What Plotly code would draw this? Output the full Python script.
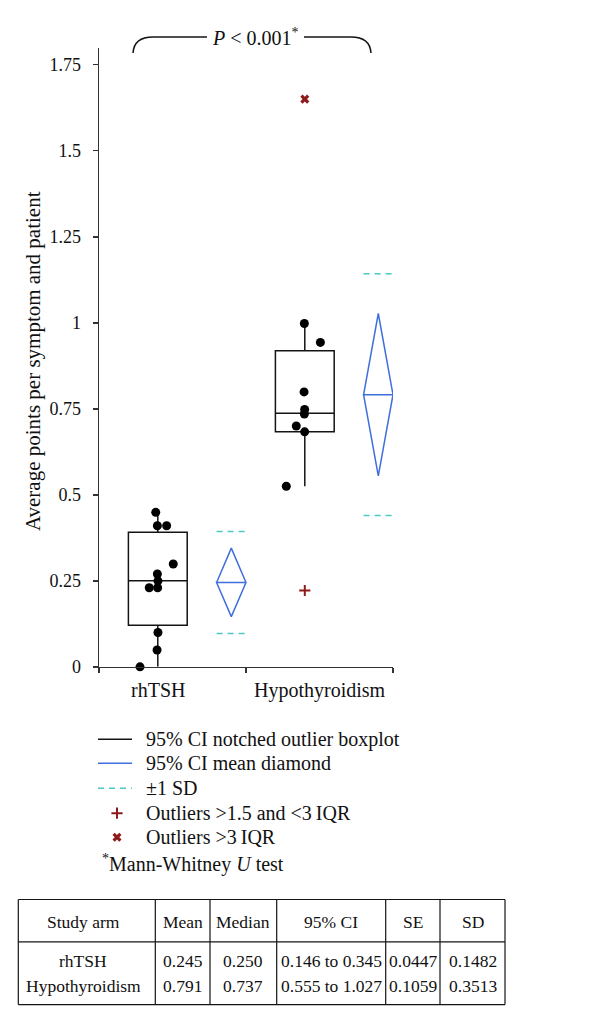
import plotly.graph_objects as go

W, H = 600, 1025
VS = 1 / 0.99   # vertical correction so page pixels land where intended
FONT = "'Liberation Serif', 'Times New Roman', Times, serif"
BLACK = "#141414"
AXIS = "#333333"
BLUE = "#3f6fdc"
CYAN = "#4cc8c8"
RED = "#8e1b1b"

# ---------------- data ----------------
groups = ["rhTSH", "Hypothyroidism"]
box_pos = [0.4, 1.4]
diamond_pos = [0.9, 1.9]
label_pos = [0.4, 1.5]

q1 = [0.121, 0.683]
median = [0.250, 0.737]
q3 = [0.391, 0.919]
lower_fence = [0.0, 0.525]
upper_fence = [0.45, 1.0]

means = [0.245, 0.791]
medians_tbl = [0.250, 0.737]
ci_low = [0.146, 0.555]
ci_high = [0.345, 1.027]
se = [0.0447, 0.1059]
sd = [0.1482, 0.3513]

rh_x = [0.386, 0.397, 0.460, 0.505, 0.397, 0.401, 0.342, 0.399, 0.401, 0.395, 0.279]
rh_y = [0.449, 0.410, 0.410, 0.299, 0.270, 0.250, 0.230, 0.230, 0.100, 0.049, 0.0]
hy_x = [1.397, 1.506, 1.395, 1.399, 1.397, 1.342, 1.399, 1.274]
hy_y = [0.998, 0.943, 0.799, 0.748, 0.735, 0.700, 0.683, 0.525]

mild_out_x = [1.40]
mild_out_y = [0.222]
ext_out_x = [1.40]
ext_out_y = [1.650]

y_ticks = [0, 0.25, 0.5, 0.75, 1, 1.25, 1.5, 1.75]
y_ticktext = ["0", "0.25", "0.5", "0.75", "1", "1.25", "1.5", "1.75"]

legend_labels = ["95% CI notched outlier boxplot", "95% CI mean diamond", "±1 SD",
                 "Outliers >1.5 and <3\u2009IQR", "Outliers >3\u2009IQR"]
table_header = ["Study arm", "Mean", "Median", "95% CI", "SE", "SD"]

# ---------------- figure ----------------
fig = go.Figure()

for i in range(len(groups)):
    fig.add_trace(go.Box(
        x=[box_pos[i]], q1=[q1[i]], median=[median[i]], q3=[q3[i]],
        lowerfence=[lower_fence[i]], upperfence=[upper_fence[i]],
        width=0.4, whiskerwidth=0, boxpoints=False,
        line=dict(color=BLACK, width=1.5), fillcolor="rgba(0,0,0,0)",
        showlegend=False, hoverinfo="skip", xaxis="x", yaxis="y"))

for i in range(len(groups)):
    c = diamond_pos[i]
    fig.add_trace(go.Scatter(
        x=[c - 0.1, c, c + 0.1, c, c - 0.1, c + 0.1],
        y=[means[i], ci_high[i], means[i], ci_low[i], means[i], means[i]],
        mode="lines", line=dict(color=BLUE, width=1.5), cliponaxis=False,
        showlegend=False, hoverinfo="skip", xaxis="x", yaxis="y"))
    fig.add_trace(go.Scatter(
        x=[c - 0.1, c + 0.1, None, c - 0.1, c + 0.1],
        y=[means[i] + sd[i], means[i] + sd[i], None, means[i] - sd[i], means[i] - sd[i]],
        mode="lines", line=dict(color=CYAN, width=1.5, dash="6px,5px"), cliponaxis=False,
        showlegend=False, hoverinfo="skip", xaxis="x", yaxis="y"))

fig.add_trace(go.Scatter(x=rh_x + hy_x, y=rh_y + hy_y, mode="markers",
                         marker=dict(color="black", size=9), cliponaxis=False,
                         showlegend=False, hoverinfo="skip", xaxis="x", yaxis="y"))
fig.add_trace(go.Scatter(x=mild_out_x, y=mild_out_y, mode="markers",
                         marker=dict(symbol="cross-thin", size=8, line=dict(color=RED, width=2)),
                         showlegend=False, hoverinfo="skip", xaxis="x", yaxis="y"))
fig.add_trace(go.Scatter(x=ext_out_x, y=ext_out_y, mode="markers",
                         marker=dict(symbol="x", size=8, color=RED),
                         showlegend=False, hoverinfo="skip", xaxis="x", yaxis="y"))

# legend markers (pixel overlay axes)
leg_y = [739, 763, 788, 813, 837]
fig.add_trace(go.Scatter(x=[117], y=[leg_y[3]], mode="markers",
                         marker=dict(symbol="cross-thin", size=8, line=dict(color=RED, width=2)),
                         showlegend=False, hoverinfo="skip", xaxis="x2", yaxis="y2"))
fig.add_trace(go.Scatter(x=[117], y=[leg_y[4]], mode="markers",
                         marker=dict(symbol="x", size=8, color=RED),
                         showlegend=False, hoverinfo="skip", xaxis="x2", yaxis="y2"))

shapes = []
annotations = []

def line(x0, y0, x1, y1, color=BLACK, width=1.5, dash=None):
    d = dict(type="line", xref="x2", yref="y2", x0=x0, y0=y0, x1=x1, y1=y1,
             line=dict(color=color, width=width))
    if dash:
        d["line"]["dash"] = dash
    shapes.append(d)

def text(x, y, s, size=19, xanchor="center", xref="x2", textangle=0):
    annotations.append(dict(x=x, y=y, xref=xref, yref="y2", text=s, showarrow=False,
                            xanchor=xanchor, yanchor="middle", textangle=textangle,
                            borderpad=0,
                            font=dict(family=FONT, size=size, color="#111")))

# bracket with p-value
shapes.append(dict(type="path", xref="x2", yref="y2",
                   path="M 133,53 Q 134,37 153,37 L 207,37 M 304,37 L 351,37 Q 370,37 371,53",
                   line=dict(color=BLACK, width=1.5)))
text(255, 37, "<i>P</i> &lt; 0.001<sup>*</sup>", size=20)

# axis title & category labels
text(33, 361, "Average points per symptom and patient", size=21, textangle=-90)
for i, g in enumerate(groups):
    text(label_pos[i], 690, g, size=20, xref="x")

# legend
line(98, leg_y[0], 132, leg_y[0], color=BLACK)
line(98, leg_y[1], 132, leg_y[1], color=BLUE)
line(98, leg_y[2], 132, leg_y[2], color=CYAN, dash="6px,5px")
for yy, lab in zip(leg_y, legend_labels):
    text(145, yy, lab, size=20, xanchor="left")
text(101, 863, "<sup>*</sup>Mann-Whitney <i>U</i> test", size=20, xanchor="left")

# table
edges = [18.3, 155.3, 210, 276.7, 385.7, 440, 505]
top, mid, bot = 899.3, 941.7, 1004.3
line(edges[0], top, edges[-1], top, width=1.2)
line(edges[0], mid, edges[-1], mid, width=1.2)
line(edges[0], bot, edges[-1], bot, width=1.2)
for e in edges:
    line(e, top, e, bot, width=1.2)
centers = [(edges[k] + edges[k + 1]) / 2 for k in range(len(edges) - 1)]
centers[0] = 83
for k, h in enumerate(table_header):
    text(centers[k], 922, h, size=17.5)
row_y = [961, 986]
for i, g in enumerate(groups):
    vals = [g, f"{means[i]:.3f}", f"{medians_tbl[i]:.3f}",
            f"{ci_low[i]:.3f} to {ci_high[i]:.3f}", f"{se[i]:.4f}", f"{sd[i]:.4f}"]
    for k, v in enumerate(vals):
        text(centers[k], row_y[i], v, size=17.5)

plot_top, plot_bot = 47.5 * VS, 666.7 * VS
fig.update_layout(
    width=W, height=H,
    margin=dict(l=0, r=0, t=0, b=0),
    paper_bgcolor="white", plot_bgcolor="rgba(0,0,0,0)",
    showlegend=False,
    font=dict(family=FONT),
    xaxis=dict(domain=[99 / W, 393 / W], range=[0, 2], type="linear", anchor="y",
               showline=True, linecolor=AXIS, linewidth=1.5, ticks="outside",
               tickvals=[0, 1, 2], ticklen=5, tickwidth=1.5, tickcolor=AXIS,
               showticklabels=False, showgrid=False, zeroline=False, fixedrange=True),
    yaxis=dict(domain=[(H - plot_bot) / H, (H - plot_top) / H], range=[0, 1.8], anchor="x",
               showline=True, linecolor=AXIS, linewidth=1.5, ticks="outside",
               tickvals=y_ticks, ticktext=y_ticktext, ticklen=5, tickwidth=1.5,
               tickcolor=AXIS, tickfont=dict(family=FONT, size=18, color="#111"),
               ticklabelstandoff=8,
               showgrid=False, zeroline=False, fixedrange=True),
    xaxis2=dict(domain=[0, 1], range=[0, W], anchor="y2", visible=False, fixedrange=True),
    yaxis2=dict(domain=[0, 1], range=[H / VS, 0], anchor="x2", visible=False, fixedrange=True),
    shapes=shapes, annotations=annotations,
)

css_fix = (
    "var s=document.createElement('style');"
    "s.textContent='html,body{margin:0;padding:0;overflow:hidden;height:1025px;}';"
    "document.head.appendChild(s);"
)
fig.write_html("out.html", config={"displayModeBar": False, "staticPlot": True},
               post_script=css_fix)
